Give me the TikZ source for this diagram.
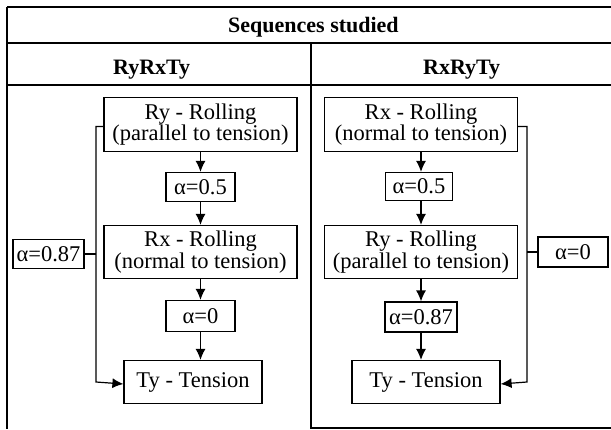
\documentclass[tikz,border=0pt]{standalone}
\usepackage{fontspec}
\setmainfont{Liberation Serif}
\usetikzlibrary{arrows.meta}
\begin{document}
\begin{tikzpicture}[x=1pt,y=-1pt,
  box/.style={draw,line width=1.2pt,inner sep=0pt,align=center,
    font=\fontsize{22.5}{20}\selectfont},
  head/.style={inner sep=0pt,font=\fontsize{22}{24}\selectfont\bfseries},
  link/.style={line width=1.2pt},
  arr/.style={line width=1.2pt,-{Latex[length=11pt,width=10pt]}},
  rule/.style={line width=1.7pt}]
\useasboundingbox (0,0) rectangle (611,429);
% table
\draw[rule] (7,7) -- (611,7);
\draw[rule] (7,43) -- (611,43);
\draw[rule] (7,85) -- (611,85);
\draw[rule] (7,7) -- (7,429);
\draw[rule] (311,43) -- (311,429);
\draw[rule] (311,428) -- (611,428);
\node[head,anchor=base west] (title) at (228,32) {Sequences studied};
\node[head,anchor=base west] (hl) at (113,74) {RyRxTy};
\node[head,anchor=base west] (hr) at (423,74) {RxRyTy};
% left column
\node[box,minimum width=193pt,minimum height=54pt] (A) at (200.5,124.5) {Ry - Rolling\\(parallel to tension)};
\node[box,minimum width=69pt,minimum height=29pt] (a05L) at (200.5,187) {α=0.5};
\node[box,minimum width=193pt,minimum height=53pt] (B) at (200.5,252) {Rx - Rolling\\(normal to tension)};
\node[box,minimum width=69pt,minimum height=31pt] (a0L) at (200.5,316) {α=0};
\node[box,minimum width=138pt,minimum height=43pt] (TyL) at (193,382) {Ty - Tension};
\node[box,minimum width=71pt,minimum height=29pt] (a087L) at (48.5,254) {α=0.87};
\coordinate (lt) at (96,0);
\draw[arr] (A.south) -- (a05L.north);
\draw[arr] (a05L.south) -- (B.north);
\draw[arr] (B.south) -- (a0L.north);
\draw[arr] (a0L.south) -- (a0L.south |- TyL.north);
\draw[arr] ([yshift=-2pt]A.west) -| (lt |- TyL.west) -- ([yshift=-2pt]TyL.west);
\draw[link] (a087L.east) -- (a087L.east -| lt);
% right column
\node[box,minimum width=193pt,minimum height=54pt] (C) at (421,124.5) {Rx - Rolling\\(normal to tension)};
\node[box,minimum width=67pt,minimum height=28pt] (a05R) at (419,186.5) {α=0.5};
\node[box,minimum width=193pt,minimum height=53pt] (D) at (421,252) {Ry - Rolling\\(parallel to tension)};
\node[box,minimum width=72pt,minimum height=30pt] (a087R) at (421,317) {α=0.87};
\node[box,minimum width=148pt,minimum height=43pt] (TyR) at (426,382) {Ty - Tension};
\node[box,minimum width=70pt,minimum height=30pt] (a0R) at (573,252) {α=0};
\coordinate (rt) at (527,0);
\draw[arr] (C.south -| 421,0) -- (421,0 |- a05R.north);
\draw[arr] (421,0 |- a05R.south) -- (421,0 |- D.north);
\draw[arr] (D.south -| a087R) -- (a087R.north);
\draw[arr] (a087R.south) -- (a087R.south |- TyR.north);
\draw[arr] ([yshift=-2pt]C.east) -| (rt |- TyR.east) -- ([yshift=-2pt]TyR.east);
\draw[link] (a0R.west) -- (a0R.west -| rt);
\end{tikzpicture}
\end{document}
